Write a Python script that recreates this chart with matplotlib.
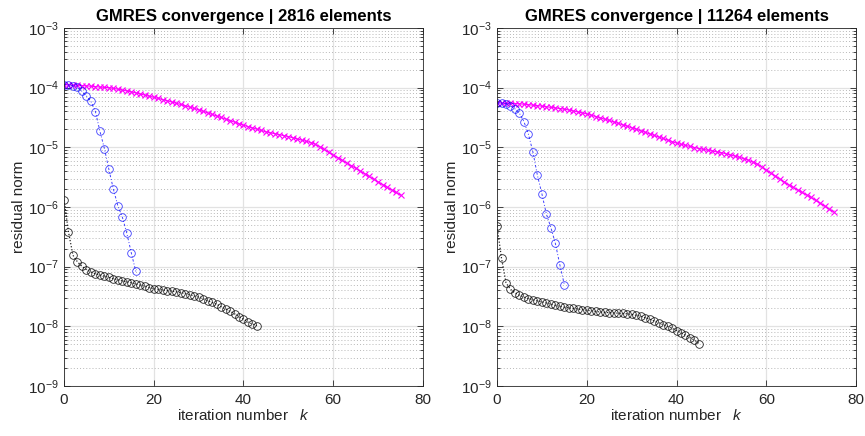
import numpy as np
import matplotlib
matplotlib.use("Agg")
import matplotlib.pyplot as plt
from matplotlib.ticker import FixedLocator, NullFormatter, LogFormatterSciNotation

plt.rcParams['font.family'] = ['Liberation Sans', 'DejaVu Sans']
plt.rcParams['mathtext.fontset'] = 'custom'
plt.rcParams['mathtext.rm'] = 'Liberation Sans'
plt.rcParams['mathtext.it'] = 'Liberation Sans:italic'

# log10 of the residual norms
titles = ["GMRES convergence | 2816 elements", "GMRES convergence | 11264 elements"]

magenta_2816 = [-3.950, -3.952, -3.955, -3.960, -3.965, -3.970, -3.976, -3.983, -3.990, -3.995,
                -4.000, -4.012, -4.025, -4.040, -4.055, -4.070, -4.088, -4.105, -4.125, -4.142,
                -4.160, -4.180, -4.200, -4.220, -4.240, -4.260, -4.282, -4.304, -4.326, -4.348,
                -4.370, -4.396, -4.422, -4.448, -4.474, -4.500, -4.526, -4.552, -4.578, -4.604,
                -4.630, -4.652, -4.674, -4.696, -4.718, -4.740, -4.756, -4.772, -4.788, -4.804,
                -4.820, -4.840, -4.860, -4.880, -4.900, -4.920, -4.950, -4.990, -5.035, -5.083,
                -5.130, -5.174, -5.218, -5.262, -5.306, -5.350, -5.396, -5.442, -5.488, -5.534,
                -5.580, -5.624, -5.668, -5.712, -5.756, -5.800]
blue_2816 = [-3.95, -3.95, -3.97, -3.995, -4.06, -4.14, -4.23, -4.40, -4.73, -5.02,
             -5.37, -5.70, -5.98, -6.17, -6.44, -6.77, -7.08]
black_2816 = [-5.88, -6.42, -6.81, -6.92, -6.995, -7.05, -7.09, -7.12, -7.14, -7.16,
              -7.18, -7.20, -7.22, -7.24, -7.255, -7.27, -7.29, -7.31, -7.33, -7.35,
              -7.37, -7.38, -7.39, -7.40, -7.41, -7.42, -7.435, -7.45, -7.47, -7.49,
              -7.51, -7.54, -7.57, -7.60, -7.63, -7.67, -7.71, -7.75, -7.79, -7.84,
              -7.88, -7.93, -7.96, -7.99]

magenta_11264 = [-4.255, -4.257, -4.260, -4.263, -4.266, -4.270, -4.277, -4.285, -4.293, -4.301,
                 -4.310, -4.320, -4.330, -4.340, -4.350, -4.360, -4.375, -4.390, -4.406, -4.423,
                 -4.440, -4.462, -4.484, -4.506, -4.528, -4.550, -4.574, -4.598, -4.622, -4.646,
                 -4.670, -4.696, -4.722, -4.748, -4.774, -4.800, -4.826, -4.852, -4.878, -4.904,
                 -4.930, -4.949, -4.967, -4.985, -5.003, -5.020, -5.034, -5.048, -5.062, -5.076,
                 -5.090, -5.108, -5.127, -5.147, -5.168, -5.190, -5.217, -5.247, -5.280, -5.327,
                 -5.380, -5.430, -5.480, -5.530, -5.580, -5.630, -5.672, -5.714, -5.756, -5.798,
                 -5.840, -5.888, -5.936, -5.984, -6.032, -6.080]
blue_11264 = [-4.255, -4.255, -4.27, -4.305, -4.355, -4.43, -4.57, -4.78, -5.08, -5.47,
              -5.78, -6.12, -6.345, -6.61, -6.97, -7.30]
black_11264 = [-6.32, -6.86, -7.27, -7.38, -7.44, -7.48, -7.51, -7.535, -7.555, -7.575,
               -7.59, -7.61, -7.63, -7.65, -7.665, -7.68, -7.69, -7.70, -7.71, -7.72,
               -7.73, -7.74, -7.75, -7.76, -7.765, -7.77, -7.775, -7.78, -7.785, -7.79,
               -7.80, -7.815, -7.83, -7.855, -7.88, -7.91, -7.94, -7.97, -8.00, -8.03,
               -8.07, -8.11, -8.15, -8.19, -8.23, -8.29]

xticks = [0, 20, 40, 60, 80]
yticks = [1e-9, 1e-8, 1e-7, 1e-6, 1e-5, 1e-4, 1e-3]

fig = plt.figure(figsize=(8.65, 4.36), dpi=100)
ax1 = fig.add_axes([0.074, 0.1147, 0.415, 0.8211])
ax2 = fig.add_axes([0.5746, 0.1147, 0.415, 0.8211])

datos = [(ax1, magenta_2816, blue_2816, black_2816, titles[0]),
         (ax2, magenta_11264, blue_11264, black_11264, titles[1])]

# minor ticks 2..9 within each decade of the visible range
menores = [m * 10.0 ** e for e in range(-9, -3) for m in range(2, 10)]

for ax, mag, azul, preto, titulo in datos:
    ax.semilogy(np.arange(len(mag)), 10.0 ** np.array(mag), '-x', color=(1, 0, 1),
                lw=0.8, ms=4, mew=0.8)
    ax.semilogy(np.arange(len(azul)), 10.0 ** np.array(azul), 'o', color=(0, 0, 1),
                ls=(0, (2.5, 2, 1, 2)), lw=0.7, ms=5.5, mew=0.6, mfc='none', alpha=0.75)
    ax.semilogy(np.arange(len(preto)), 10.0 ** np.array(preto), 'o', color='k',
                ls=(0, (1, 1.5)), lw=0.9, ms=5.5, mew=0.6, mfc='none', alpha=0.85)
    ax.set_xlim(0, 80)
    ax.set_ylim(1e-9, 1e-3)
    ax.set_xticks(xticks)
    ax.yaxis.set_major_locator(FixedLocator(yticks))
    ax.yaxis.set_minor_locator(FixedLocator(menores))
    ax.yaxis.set_minor_formatter(NullFormatter())
    ax.yaxis.set_major_formatter(LogFormatterSciNotation())
    ax.tick_params(which='both', direction='in', top=True, right=True, colors='#262626',
                   labelsize=11, width=0.6)
    ax.tick_params(which='major', length=4)
    ax.tick_params(which='minor', length=2)
    ax.tick_params(axis='x', pad=5)
    for s in ax.spines.values():
        s.set_color('#262626')
        s.set_linewidth(0.6)
    ax.grid(True, which='major', color='#e2e2e2', lw=0.9)
    ax.grid(True, axis='y', which='minor', color='#b8b8b8', lw=0.7, ls=(0, (1, 2.2)))
    ax.set_axisbelow(True)
    ax.set_title(titulo, fontsize=12, fontweight='bold', pad=5)
    ax.set_xlabel(r'iteration number   $k$', fontsize=11, color='#262626', labelpad=1)

ax1.set_ylabel('residual norm', fontsize=11, color='#262626', labelpad=2)
ax2.set_ylabel('residual norm', fontsize=11, color='#262626', labelpad=2)

fig.savefig('out.png', dpi=100)
